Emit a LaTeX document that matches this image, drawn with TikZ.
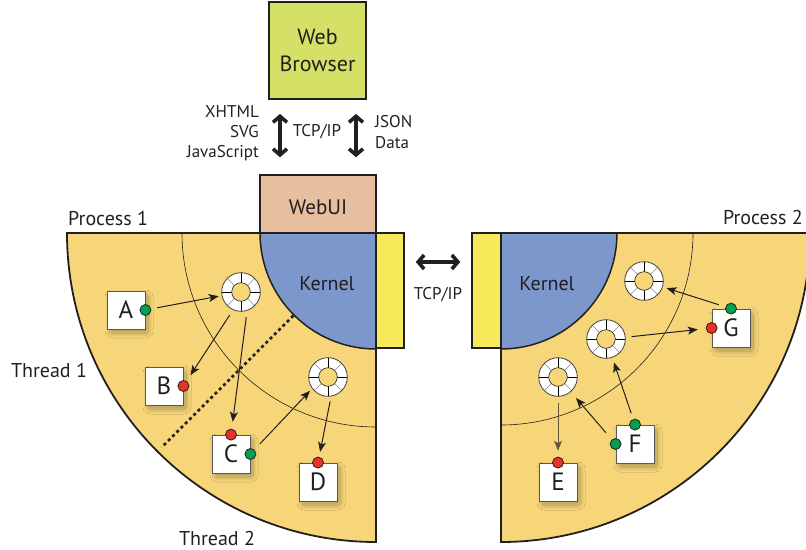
\documentclass[tikz,border=0pt]{standalone}
\usepackage{fontspec}
\setmainfont{PT Sans}
\usetikzlibrary{arrows.meta, calc, shadows.blur}

\definecolor{inkdark}{RGB}{35,31,32}
\definecolor{fanfill}{RGB}{247,214,121}
\definecolor{kernelblue}{RGB}{123,151,203}
\definecolor{barfill}{RGB}{246,234,90}
\definecolor{webuifill}{RGB}{230,190,160}
\definecolor{browserfill}{RGB}{212,224,102}
\definecolor{dotgreen}{RGB}{0,160,80}
\definecolor{dotred}{RGB}{236,49,36}
\definecolor{olivearrow}{RGB}{100,85,55}

\begin{document}
\begin{tikzpicture}[x=1pt, y=-1pt,
  txt17/.style={font=\fontsize{17}{20}\selectfont, inner sep=0pt, text=inkdark},
  txt20/.style={font=\fontsize{20}{24}\selectfont, inner sep=0pt, text=inkdark},
  fanedge/.style={draw=inkdark, line width=1.8pt, line join=miter},
  thinarc/.style={draw=inkdark, line width=0.6pt},
  dotline/.style={draw=inkdark, line width=2.8pt, dash pattern=on 3pt off 3pt},
  bigarrow/.style={draw=inkdark, line width=3.6pt,
    {Straight Barb[length=6pt, width=14pt]}-{Straight Barb[length=6pt, width=14pt]}},
  conn/.style={draw=inkdark, line width=1pt, -{Stealth[length=10pt, width=8pt, inset=2.5pt]}},
  pbox/.style={draw=black!65, line width=0.8pt, fill=white, minimum size=38pt,
    inner sep=0pt, text=inkdark, font=\fontsize{25}{25}\selectfont,
    blur shadow={shadow xshift=3pt, shadow yshift=-4pt, shadow blur radius=5pt,
      shadow blur steps=12, shadow opacity=30, shadow blur extra rounding=2pt}},
  gdot/.style={circle, draw=inkdark, line width=0.8pt, fill=dotgreen, minimum size=11pt, inner sep=0pt},
  rdot/.style={circle, draw=inkdark, line width=0.8pt, fill=dotred, minimum size=11pt, inner sep=0pt},
  ringnode/.style={circle, minimum size=38.6pt, inner sep=0pt, fill=white,
    draw=black!75, line width=0.8pt,
    path picture={
      \foreach \a in {45,135,225,315}
        \draw[black!45, line width=0.6pt] (path picture bounding box.center) ++(\a:9) -- ++(\a:11);
      \foreach \a in {0,90,180,270}
        \draw[black, line width=0.7pt] (path picture bounding box.center) ++(\a:9) -- ++(\a:11);
      \draw[black!80, fill=fanfill, line width=0.7pt] (path picture bounding box.center) circle[radius=9.3];
    }},
  barnode/.style={draw=inkdark, line width=1.5pt, fill=barfill, minimum height=115pt, inner sep=0pt}
]
\useasboundingbox (0,0) rectangle (806,549);
\clip (0,0) rectangle (806,549);

% centres of the two process fans
\coordinate (LC) at (376,233);
\coordinate (RC) at (501,233);

% process fans
\fill[fanfill] (LC) -- (67,233) arc[start angle=180, end angle=90, radius=309] -- cycle;
\draw[fanedge] (LC) -- (67,233) arc[start angle=180, end angle=90, radius=309] -- cycle;
\fill[fanfill] (RC) -- (810,233) arc[start angle=0, end angle=90, radius=309] -- cycle;
\draw[fanedge] (RC) -- (810,233) arc[start angle=0, end angle=90, radius=309] -- cycle;

% thread boundaries
\draw[thinarc] (182,233) arc[start angle=180, end angle=90, radius=194];
\draw[thinarc] (693,233) arc[start angle=0, end angle=90, radius=192];

% kernels
\filldraw[fill=kernelblue, draw=inkdark, line width=1.5pt]
  (LC) -- (260,233) arc[start angle=180, end angle=90, radius=116] -- cycle;
\filldraw[fill=kernelblue, draw=inkdark, line width=1.5pt]
  (RC) -- (617,233) arc[start angle=0, end angle=90, radius=116] -- cycle;

% network bars
\node[barnode, minimum width=28pt] (LBar) at (390,290.5) {};
\node[barnode, minimum width=29pt] (RBar) at (486.5,290.5) {};

% WebUI and browser
\node[draw=inkdark, line width=1.5pt, fill=webuifill, minimum width=116pt, minimum height=58pt,
      inner sep=0pt, txt20] (WebUI) at (318,204) {};
\node[txt20, font=\fontsize{21}{24}\selectfont] at (318,207) {WebUI};
\node[draw=inkdark, line width=1.8pt, fill=browserfill, minimum width=97pt, minimum height=97pt,
      inner sep=0pt, align=center, font=\fontsize{22}{27}\selectfont, text=inkdark] (Browser) at (317.5,50.5) {Web\\Browser};

% browser link
\draw[bigarrow, shorten <=14pt, shorten >=17pt] ([xshift=-37.5pt]Browser.south) -- ([xshift=-38pt]WebUI.north);
\draw[bigarrow, shorten <=14pt, shorten >=17pt] ([xshift=38.5pt]Browser.south) -- ([xshift=38pt]WebUI.north);
\node[txt17, align=right, anchor=east] at (259,133) {XHTML\\SVG\\JavaScript};
\node[txt17] at (317,132) {TCP/IP};
\node[txt17, align=left, anchor=west, font=\fontsize{17}{21}\selectfont] at (375,132.5) {JSON\\Data};

% kernel link
\draw[bigarrow, shorten <=11pt, shorten >=11pt] ([yshift=28.5pt]LBar.east) -- ([yshift=28.5pt]RBar.west);
\node[txt17] at (438,295) {TCP/IP};

% labels
\node[txt20, anchor=west] at (68,218) {Process 1};
\node[txt20, anchor=east] at (803,217) {Process 2};
\node[txt20] at (327,284) {Kernel};
\node[txt20] at (547,284) {Kernel};
\node[txt20] at (49,370) {Thread 1};
\node[txt20] at (217,538) {Thread 2};

% thread separator
\draw[dotline] ($(LC)+(135:117)$) -- ($(LC)+(135:303)$);

% queues
\node[ringnode] (R1) at (241,292) {};
\node[ringnode] (R2) at (328,377) {};
\node[ringnode] (R3) at (644,281) {};
\node[ringnode] (R4) at (606,339) {};
\node[ringnode] (R5) at (558,377) {};

% objects
\node[pbox] (A) at (126,310) {A};
\node[pbox] (B) at (164,386) {B};
\node[pbox] (C) at (231,454) {C};
\node[pbox] (D) at (318,482) {D};
\node[pbox] (E) at (558,482) {E};
\node[pbox] (F) at (635,444) {F};
\node[pbox] (G) at (731,328) {G};

% ports
\node[gdot] (Ag) at (A.east) {};
\node[rdot] (Br) at (B.east) {};
\node[rdot] (Ct) at (C.north) {};
\node[gdot] (Cg) at (C.east) {};
\node[rdot] (Dt) at (D.north) {};
\node[rdot] (Et) at (E.north) {};
\node[gdot] (Ft) at (F.north) {};
\node[gdot] (Fl) at (F.west) {};
\node[gdot] (Gt) at (G.north) {};
\node[rdot] (Gl) at (G.west) {};

% messages
\draw[conn, shorten <=6pt, shorten >=3pt] (Ag) -- (R1);
\draw[conn, shorten <=6pt, shorten >=7pt] (R1.246) -- (Br);
\draw[conn, shorten <=6.5pt, shorten >=7pt] (R1.288) -- (Ct);
\draw[conn, shorten <=8pt, shorten >=3pt] (Cg) -- (R2.216);
\draw[conn, shorten <=5pt, shorten >=5pt] (R2.279) -- (Dt);
\draw[conn, shorten <=7pt, shorten >=4pt] (Gt) -- (R3);
\draw[conn, shorten <=6pt, shorten >=8pt] (R4.5) -- (Gl);
\draw[conn, shorten <=6pt, shorten >=5pt] (Ft) -- (R4);
\draw[conn, shorten <=9pt, shorten >=8pt] (Fl) -- (R5);
\draw[conn, draw=olivearrow, shorten <=6pt, shorten >=6pt] (R5) -- (Et);
\end{tikzpicture}
\end{document}
